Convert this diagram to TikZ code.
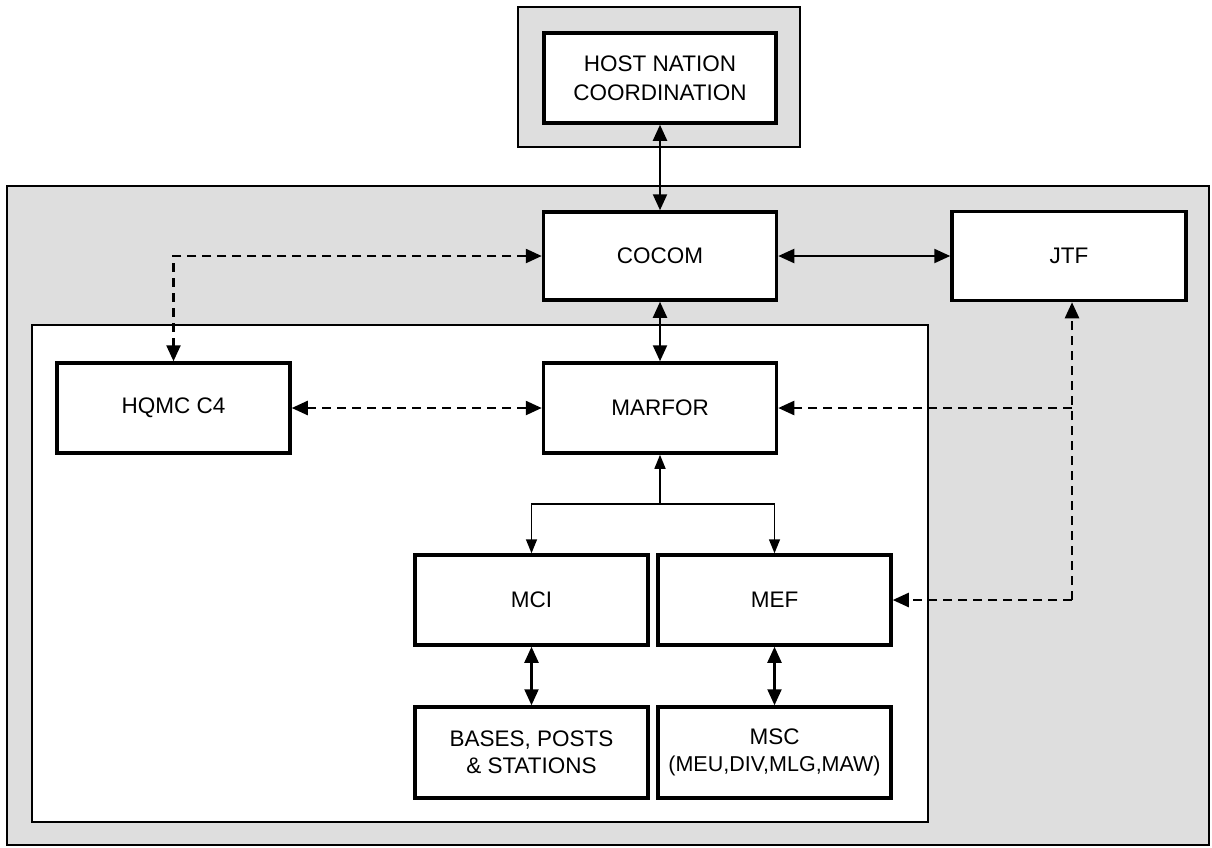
\documentclass[tikz,border=0pt]{standalone}
\usepackage{fontspec}
\setmainfont{Liberation Sans}
\usetikzlibrary{arrows.meta}
\tikzset{
  unitbox/.style={draw=black, line width=3.5pt, fill=white, minimum width=233pt, minimum height=90pt, inner sep=0pt, align=center, font=\fontsize{22.5}{29}\selectfont},
  shadefill/.style={fill=black!13, draw=black, line width=1.6pt},
  whitearea/.style={fill=white, draw=black, line width=1.8pt},
  tipbig/.tip={Triangle[length=16pt,width=14pt]},
  tipsmall/.tip={Triangle[length=14pt,width=11pt]},
  solidlink/.style={draw=black, line width=2.2pt},
  dashlink/.style={draw=black, line width=2.4pt, dash pattern=on 9pt off 6pt},
  forklink/.style={draw=black, line width=1.5pt}
}
\begin{document}
\begin{tikzpicture}[x=1pt,y=-1pt]
\useasboundingbox (0,0) rectangle (1212,847);
\fill[white] (0,0) rectangle (1212,847);
% frames
\draw[shadefill] (518,7) rectangle (800,147);
\node[inner sep=0pt] (hostframe) at (659,77) {};
\draw[shadefill] (7,186) rectangle (1209,845);
\node[inner sep=0pt] (outerframe) at (608,515) {};
\draw[whitearea] (32,325) rectangle (928,822);
\node[inner sep=0pt] (innerframe) at (480,573) {};
% boxes
\node[unitbox, minimum width=232pt] (host) at (660,78) {HOST NATION\\COORDINATION};
\node[unitbox, minimum height=88pt] (cocom) at (660,256) {COCOM};
\node[unitbox, minimum width=234pt, minimum height=89pt] (jtf) at (1069,256) {JTF};
\node[unitbox] (hqmc) at (173.5,408) {HQMC C4};
\node[unitbox] (marfor) at (660,408) {MARFOR};
\node[unitbox] (mci) at (531.5,600) {MCI};
\node[unitbox] (mef) at (774.5,600) {MEF};
\node[unitbox, minimum height=91pt, font=\fontsize{22.5}{27}\selectfont] (bases) at (531.5,752.5) {BASES, POSTS\\\& STATIONS};
\node[unitbox, minimum height=91pt, font=\fontsize{22.5}{27}\selectfont] (msc) at (774.5,752.5) {MSC\\{\fontsize{21.5}{27}\selectfont(MEU,DIV,MLG,MAW)}};
% solid links
\draw[solidlink, tipbig-tipbig] (host.south) -- (cocom.north);
\draw[solidlink, tipbig-tipbig] (cocom.east) -- (jtf.west);
\draw[solidlink, tipbig-tipbig] (cocom.south) -- (marfor.north);
\draw[solidlink, tipbig-tipbig] (mci.south) -- (bases.north);
\draw[solidlink, tipbig-tipbig] (mef.south) -- (msc.north);
% fork
\coordinate (fork) at (660,504);
\draw[forklink, -tipsmall] (fork) -- (marfor.south);
\draw[forklink, -tipsmall] (fork) -| (mci.north);
\draw[forklink, -tipsmall] (fork) -| (mef.north);
% dashed links
\draw[dashlink, tipbig-tipbig] (cocom.west) -| (hqmc.north);
\draw[dashlink, tipbig-tipbig] (hqmc.east) -- (marfor.west);
\coordinate (jmid) at (1072,408);
\coordinate (jlow) at (1072,600);
\draw[dashlink, -tipbig] (jlow) -- (jlow |- jtf.south);
\draw[dashlink, -tipbig] (jmid) -- (marfor.east);
\draw[dashlink, -tipbig] (jlow) -- (mef.east);
\end{tikzpicture}
\end{document}
